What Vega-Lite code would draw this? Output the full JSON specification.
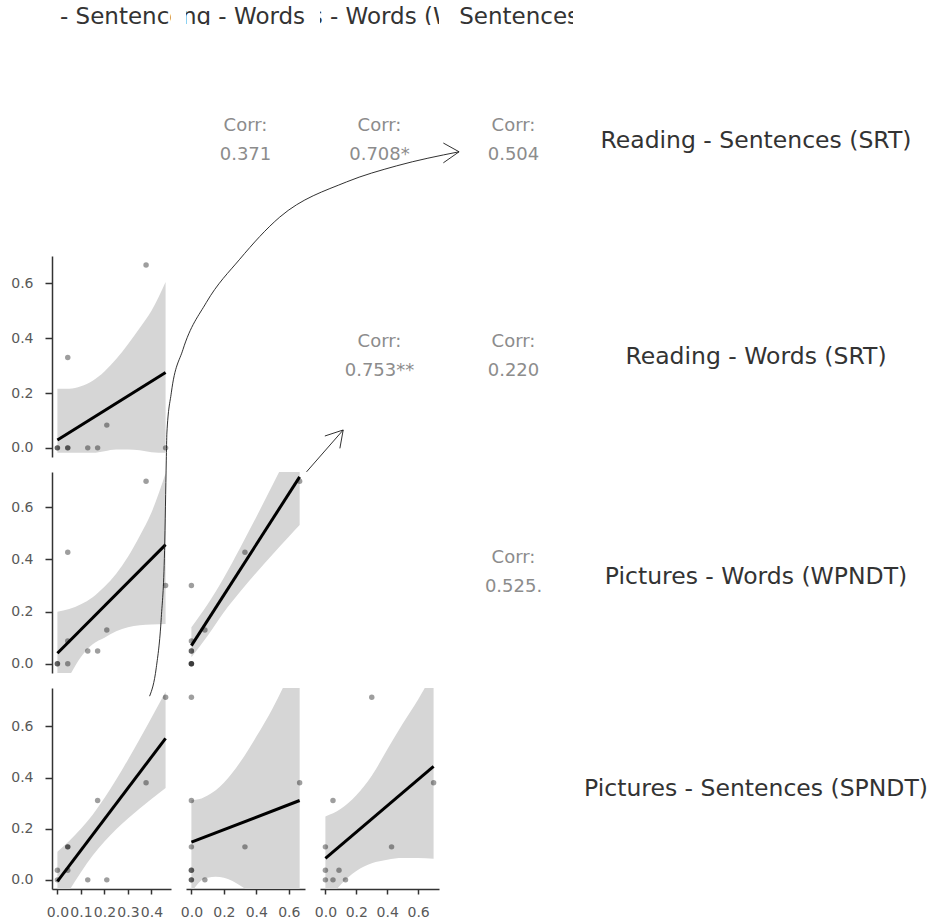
{
"$schema": "https://vega.github.io/schema/vega-lite/v6.json",
"padding": {"left": 10, "top": 0, "right": 0, "bottom": 0},
"background": "white",
"columns": 5,
"spacing": {"row": 15, "column": 15},
"bounds": "flush",
"align": "each",
"config": {
  "view": {"stroke": null},
  "axis": {"grid": false, "domainColor": "#333333", "domainWidth": 1.5, "tickColor": "#333333", "tickWidth": 1.5, "labelColor": "#595959", "labelFont": "DejaVu Sans", "labelFontSize": 14, "labelFlush": false, "labelOverlap": false},
  "axisY": {"tickSize": 7, "labelPadding": 12},
  "axisX": {"tickSize": 5, "labelPadding": 11}
},
"datasets": {
  "obs": [
    {"A": 0.377, "B": 0.667, "C": 0.70, "D": 0.38},
    {"A": 0.46, "B": 0, "C": 0.30, "D": 0.714},
    {"A": 0.21, "B": 0.083, "C": 0.13, "D": 0},
    {"A": 0.171, "B": 0, "C": 0.049, "D": 0.31},
    {"A": 0.129, "B": 0, "C": 0.049, "D": 0},
    {"A": 0.044, "B": 0.33, "C": 0.428, "D": 0.129},
    {"A": 0.044, "B": 0, "C": 0.088, "D": 0.038},
    {"A": 0, "B": 0, "C": 0, "D": 0.038},
    {"A": 0.044, "B": 0, "C": 0, "D": 0.129},
    {"A": 0, "B": 0, "C": 0, "D": 0}
  ],
  "band": [
    {"p": "AB", "x": 0, "lo": -0.018, "hi": 0.216},
    {"p": "AB", "x": 0.05, "lo": -0.018, "hi": 0.216},
    {"p": "AB", "x": 0.1, "lo": -0.018, "hi": 0.225},
    {"p": "AB", "x": 0.15, "lo": -0.018, "hi": 0.245},
    {"p": "AB", "x": 0.2, "lo": -0.012, "hi": 0.279},
    {"p": "AB", "x": 0.25, "lo": -0.006, "hi": 0.324},
    {"p": "AB", "x": 0.3, "lo": -0.006, "hi": 0.378},
    {"p": "AB", "x": 0.35, "lo": -0.009, "hi": 0.437},
    {"p": "AB", "x": 0.4, "lo": -0.016, "hi": 0.5},
    {"p": "AB", "x": 0.46, "lo": -0.018, "hi": 0.605},
    {"p": "AC", "x": 0, "lo": -0.129, "hi": 0.20},
    {"p": "AC", "x": 0.05, "lo": -0.048, "hi": 0.21},
    {"p": "AC", "x": 0.1, "lo": 0.026, "hi": 0.228},
    {"p": "AC", "x": 0.15, "lo": 0.075, "hi": 0.255},
    {"p": "AC", "x": 0.2, "lo": 0.10, "hi": 0.295},
    {"p": "AC", "x": 0.25, "lo": 0.125, "hi": 0.345},
    {"p": "AC", "x": 0.3, "lo": 0.14, "hi": 0.41},
    {"p": "AC", "x": 0.35, "lo": 0.148, "hi": 0.49},
    {"p": "AC", "x": 0.4, "lo": 0.151, "hi": 0.58},
    {"p": "AC", "x": 0.46, "lo": 0.153, "hi": 0.73},
    {"p": "AD", "x": 0, "lo": -0.12, "hi": 0.11},
    {"p": "AD", "x": 0.05, "lo": -0.042, "hi": 0.152},
    {"p": "AD", "x": 0.1, "lo": 0.03, "hi": 0.20},
    {"p": "AD", "x": 0.15, "lo": 0.095, "hi": 0.255},
    {"p": "AD", "x": 0.2, "lo": 0.15, "hi": 0.32},
    {"p": "AD", "x": 0.25, "lo": 0.198, "hi": 0.392},
    {"p": "AD", "x": 0.3, "lo": 0.24, "hi": 0.47},
    {"p": "AD", "x": 0.35, "lo": 0.279, "hi": 0.551},
    {"p": "AD", "x": 0.4, "lo": 0.316, "hi": 0.634},
    {"p": "AD", "x": 0.46, "lo": 0.359, "hi": 0.735},
    {"p": "BC", "x": 0, "lo": 0.025, "hi": 0.14},
    {"p": "BC", "x": 0.1, "lo": 0.108, "hi": 0.228},
    {"p": "BC", "x": 0.2, "lo": 0.198, "hi": 0.33},
    {"p": "BC", "x": 0.3, "lo": 0.276, "hi": 0.444},
    {"p": "BC", "x": 0.4, "lo": 0.349, "hi": 0.563},
    {"p": "BC", "x": 0.5, "lo": 0.419, "hi": 0.685},
    {"p": "BC", "x": 0.6, "lo": 0.487, "hi": 0.809},
    {"p": "BC", "x": 0.667, "lo": 0.532, "hi": 0.892},
    {"p": "BD", "x": 0, "lo": -0.05, "hi": 0.312},
    {"p": "BD", "x": 0.05, "lo": -0.008, "hi": 0.316},
    {"p": "BD", "x": 0.1, "lo": 0.008, "hi": 0.33},
    {"p": "BD", "x": 0.15, "lo": 0.012, "hi": 0.35},
    {"p": "BD", "x": 0.2, "lo": 0.008, "hi": 0.38},
    {"p": "BD", "x": 0.3, "lo": -0.022, "hi": 0.46},
    {"p": "BD", "x": 0.4, "lo": -0.07, "hi": 0.56},
    {"p": "BD", "x": 0.5, "lo": -0.15, "hi": 0.67},
    {"p": "BD", "x": 0.6, "lo": -0.24, "hi": 0.8},
    {"p": "BD", "x": 0.667, "lo": -0.3, "hi": 0.9},
    {"p": "CD", "x": 0, "lo": -0.094, "hi": 0.248},
    {"p": "CD", "x": 0.1, "lo": -0.018, "hi": 0.278},
    {"p": "CD", "x": 0.2, "lo": 0.035, "hi": 0.331},
    {"p": "CD", "x": 0.3, "lo": 0.065, "hi": 0.407},
    {"p": "CD", "x": 0.4, "lo": 0.079, "hi": 0.51},
    {"p": "CD", "x": 0.5, "lo": 0.085, "hi": 0.61},
    {"p": "CD", "x": 0.6, "lo": 0.085, "hi": 0.705},
    {"p": "CD", "x": 0.7, "lo": 0.083, "hi": 0.813}
  ],
  "corr": [
    {"pair": "AB", "label": "Corr:", "value": "0.371"},
    {"pair": "AC", "label": "Corr:", "value": "0.708*"},
    {"pair": "AD", "label": "Corr:", "value": "0.504"},
    {"pair": "BC", "label": "Corr:", "value": "0.753**"},
    {"pair": "BD", "label": "Corr:", "value": "0.220"},
    {"pair": "CD", "label": "Corr:", "value": "0.525."}
  ],
  "vars": [
    {"v": "A", "name": "Reading - Sentences (SRT)"},
    {"v": "B", "name": "Reading - Words (SRT)"},
    {"v": "C", "name": "Pictures - Words (WPNDT)"},
    {"v": "D", "name": "Pictures - Sentences (SPNDT)"}
  ],
  "curve": [
    {"A": 0.392, "D": 0.718},
    {"A": 0.4204, "D": 0.8293},
    {"A": 0.4417, "D": 1.0256},
    {"A": 0.4557, "D": 1.2875},
    {"A": 0.4630, "D": 1.6408},
    {"A": 0.4655, "D": 1.7468},
    {"A": 0.4843, "D": 1.9038},
    {"A": 0.5337, "D": 2.0726},
    {"A": 0.6334, "D": 2.2572},
    {"A": 0.7752, "D": 2.4260},
    {"A": 0.9456, "D": 2.5909},
    {"A": 1.2297, "D": 2.7283},
    {"A": 1.4426, "D": 2.7911},
    {"A": 1.7080, "D": 2.8460}
  ],
  "segs": [
    {"s": "h1a", "A": 1.6411, "D": 2.8802},
    {"s": "h1a", "A": 1.7080, "D": 2.8460},
    {"s": "h1b", "A": 1.6411, "D": 2.8029},
    {"s": "h1b", "A": 1.7080, "D": 2.8460},
    {"s": "a2", "A": 1.0593, "D": 1.5949},
    {"s": "a2", "A": 1.2152, "D": 1.7586},
    {"s": "h2a", "A": 1.1372, "D": 1.7350},
    {"s": "h2a", "A": 1.2152, "D": 1.7586},
    {"s": "h2b", "A": 1.2011, "D": 1.6867},
    {"s": "h2b", "A": 1.2152, "D": 1.7586}
  ]
},
"concat": [
  {"width": 119, "height": 25, "data": {"name": "vars"}, "transform": [{"filter": "datum.v == 'A'"}], "mark": {"type": "text", "clip": true, "font": "DejaVu Sans", "fontSize": 23, "color": "#333333", "dy": 4}, "encoding": {"text": {"field": "name"}}},
  {"width": 119, "height": 25, "data": {"name": "vars"}, "transform": [{"filter": "datum.v == 'B'"}], "mark": {"type": "text", "clip": true, "font": "DejaVu Sans", "fontSize": 23, "color": "#333333", "dy": 4}, "encoding": {"text": {"field": "name"}}},
  {"width": 119, "height": 25, "data": {"name": "vars"}, "transform": [{"filter": "datum.v == 'C'"}], "mark": {"type": "text", "clip": true, "font": "DejaVu Sans", "fontSize": 23, "color": "#333333", "dy": 4}, "encoding": {"text": {"field": "name"}}},
  {"width": 119, "height": 25, "data": {"name": "vars"}, "transform": [{"filter": "datum.v == 'D'"}], "mark": {"type": "text", "clip": true, "font": "DejaVu Sans", "fontSize": 23, "color": "#333333", "dy": 4}, "encoding": {"text": {"field": "name"}}},
  {"width": 336, "height": 25, "data": {"values": [{}]}, "mark": {"type": "text", "text": ""}},

  {"width": 119, "height": 201, "data": {"values": [{}]}, "mark": {"type": "text", "text": ""}},
  {"width": 119, "height": 201, "data": {"name": "corr"}, "transform": [{"filter": "datum.pair == 'AB'"}], "layer": [
    {"mark": {"type": "text", "font": "DejaVu Sans", "fontSize": 18, "color": "#8c8c8c", "dy": -15}, "encoding": {"text": {"field": "label"}}},
    {"mark": {"type": "text", "font": "DejaVu Sans", "fontSize": 18, "color": "#8c8c8c", "dy": 14}, "encoding": {"text": {"field": "value"}}}]},
  {"width": 119, "height": 201, "data": {"name": "corr"}, "transform": [{"filter": "datum.pair == 'AC'"}], "layer": [
    {"mark": {"type": "text", "font": "DejaVu Sans", "fontSize": 18, "color": "#8c8c8c", "dy": -15}, "encoding": {"text": {"field": "label"}}},
    {"mark": {"type": "text", "font": "DejaVu Sans", "fontSize": 18, "color": "#8c8c8c", "dy": 14}, "encoding": {"text": {"field": "value"}}}]},
  {"width": 119, "height": 201, "data": {"name": "corr"}, "transform": [{"filter": "datum.pair == 'AD'"}], "layer": [
    {"mark": {"type": "text", "font": "DejaVu Sans", "fontSize": 18, "color": "#8c8c8c", "dy": -15}, "encoding": {"text": {"field": "label"}}},
    {"mark": {"type": "text", "font": "DejaVu Sans", "fontSize": 18, "color": "#8c8c8c", "dy": 14}, "encoding": {"text": {"field": "value"}}}]},
  {"width": 336, "height": 201, "data": {"name": "vars"}, "transform": [{"filter": "datum.v == 'A'"}], "mark": {"type": "text", "font": "DejaVu Sans", "fontSize": 23.5, "color": "#333333"}, "encoding": {"text": {"field": "name"}}},

  {"width": 119, "height": 201, "layer": [
    {"data": {"name": "band"}, "transform": [{"filter": "datum.p == 'AB'"}], "mark": {"type": "area", "color": "#d6d6d6", "opacity": 1, "clip": true, "interpolate": "monotone"},
     "encoding": {"x": {"field": "x", "type": "quantitative", "title": null, "scale": {"domain": [-0.023, 0.483], "nice": false, "zero": false}, "axis": null},
                  "y": {"field": "lo", "type": "quantitative", "title": null, "scale": {"domain": [-0.0333, 0.70], "nice": false, "zero": false}, "axis": {"values": [0, 0.2, 0.4, 0.6], "format": ".1f"}},
                  "y2": {"field": "hi"}}},
    {"data": {"name": "obs"}, "mark": {"type": "circle", "size": 30, "color": "#000000", "opacity": 0.38},
     "encoding": {"x": {"field": "A", "type": "quantitative", "title": null, "axis": null},
                  "y": {"field": "B", "type": "quantitative", "title": null, "axis": {"values": [0, 0.2, 0.4, 0.6], "format": ".1f"}}}},
    {"data": {"name": "obs"}, "transform": [{"regression": "B", "on": "A"}], "mark": {"type": "line", "color": "#000000", "strokeWidth": 3},
     "encoding": {"x": {"field": "A", "type": "quantitative", "title": null, "axis": null},
                  "y": {"field": "B", "type": "quantitative", "title": null, "axis": {"values": [0, 0.2, 0.4, 0.6], "format": ".1f"}}}}
  ]},
  {"width": 119, "height": 201, "data": {"values": [{}]}, "mark": {"type": "text", "text": ""}},
  {"width": 119, "height": 201, "data": {"name": "corr"}, "transform": [{"filter": "datum.pair == 'BC'"}], "layer": [
    {"mark": {"type": "text", "font": "DejaVu Sans", "fontSize": 18, "color": "#8c8c8c", "dy": -15}, "encoding": {"text": {"field": "label"}}},
    {"mark": {"type": "text", "font": "DejaVu Sans", "fontSize": 18, "color": "#8c8c8c", "dy": 14}, "encoding": {"text": {"field": "value"}}}]},
  {"width": 119, "height": 201, "data": {"name": "corr"}, "transform": [{"filter": "datum.pair == 'BD'"}], "layer": [
    {"mark": {"type": "text", "font": "DejaVu Sans", "fontSize": 18, "color": "#8c8c8c", "dy": -15}, "encoding": {"text": {"field": "label"}}},
    {"mark": {"type": "text", "font": "DejaVu Sans", "fontSize": 18, "color": "#8c8c8c", "dy": 14}, "encoding": {"text": {"field": "value"}}}]},
  {"width": 336, "height": 201, "data": {"name": "vars"}, "transform": [{"filter": "datum.v == 'B'"}], "mark": {"type": "text", "font": "DejaVu Sans", "fontSize": 23.5, "color": "#333333"}, "encoding": {"text": {"field": "name"}}},

  {"width": 119, "height": 201, "layer": [
    {"data": {"name": "band"}, "transform": [{"filter": "datum.p == 'AC'"}], "mark": {"type": "area", "color": "#d6d6d6", "opacity": 1, "clip": true, "interpolate": "monotone"},
     "encoding": {"x": {"field": "x", "type": "quantitative", "title": null, "scale": {"domain": [-0.023, 0.483], "nice": false, "zero": false}, "axis": null},
                  "y": {"field": "lo", "type": "quantitative", "title": null, "scale": {"domain": [-0.035, 0.735], "nice": false, "zero": false}, "axis": {"values": [0, 0.2, 0.4, 0.6], "format": ".1f"}},
                  "y2": {"field": "hi"}}},
    {"data": {"name": "obs"}, "mark": {"type": "circle", "size": 30, "color": "#000000", "opacity": 0.38},
     "encoding": {"x": {"field": "A", "type": "quantitative", "title": null, "axis": null},
                  "y": {"field": "C", "type": "quantitative", "title": null, "axis": {"values": [0, 0.2, 0.4, 0.6], "format": ".1f"}}}},
    {"data": {"name": "obs"}, "transform": [{"regression": "C", "on": "A"}], "mark": {"type": "line", "color": "#000000", "strokeWidth": 3},
     "encoding": {"x": {"field": "A", "type": "quantitative", "title": null, "axis": null},
                  "y": {"field": "C", "type": "quantitative", "title": null, "axis": {"values": [0, 0.2, 0.4, 0.6], "format": ".1f"}}}}
  ]},
  {"width": 119, "height": 201, "layer": [
    {"data": {"name": "band"}, "transform": [{"filter": "datum.p == 'BC'"}], "mark": {"type": "area", "color": "#d6d6d6", "opacity": 1, "clip": true, "interpolate": "monotone"},
     "encoding": {"x": {"field": "x", "type": "quantitative", "title": null, "scale": {"domain": [-0.0333, 0.70], "nice": false, "zero": false}, "axis": null},
                  "y": {"field": "lo", "type": "quantitative", "title": null, "scale": {"domain": [-0.035, 0.735], "nice": false, "zero": false}, "axis": null},
                  "y2": {"field": "hi"}}},
    {"data": {"name": "obs"}, "mark": {"type": "circle", "size": 30, "color": "#000000", "opacity": 0.38},
     "encoding": {"x": {"field": "B", "type": "quantitative", "title": null, "axis": null},
                  "y": {"field": "C", "type": "quantitative", "title": null, "axis": null}}},
    {"data": {"name": "obs"}, "transform": [{"regression": "C", "on": "B"}], "mark": {"type": "line", "color": "#000000", "strokeWidth": 3},
     "encoding": {"x": {"field": "B", "type": "quantitative", "title": null, "axis": null},
                  "y": {"field": "C", "type": "quantitative", "title": null, "axis": null}}}
  ]},
  {"width": 119, "height": 201, "data": {"values": [{}]}, "mark": {"type": "text", "text": ""}},
  {"width": 119, "height": 201, "data": {"name": "corr"}, "transform": [{"filter": "datum.pair == 'CD'"}], "layer": [
    {"mark": {"type": "text", "font": "DejaVu Sans", "fontSize": 18, "color": "#8c8c8c", "dy": -15}, "encoding": {"text": {"field": "label"}}},
    {"mark": {"type": "text", "font": "DejaVu Sans", "fontSize": 18, "color": "#8c8c8c", "dy": 14}, "encoding": {"text": {"field": "value"}}}]},
  {"width": 336, "height": 201, "data": {"name": "vars"}, "transform": [{"filter": "datum.v == 'C'"}], "mark": {"type": "text", "font": "DejaVu Sans", "fontSize": 23.5, "color": "#333333", "dy": 4}, "encoding": {"text": {"field": "name"}}},

  {"width": 119, "height": 201, "layer": [
    {"data": {"name": "band"}, "transform": [{"filter": "datum.p == 'AD'"}], "mark": {"type": "area", "color": "#d6d6d6", "opacity": 1, "clip": true, "interpolate": "monotone"},
     "encoding": {"x": {"field": "x", "type": "quantitative", "title": null, "scale": {"domain": [-0.023, 0.483], "nice": false, "zero": false}, "axis": {"values": [0, 0.1, 0.2, 0.3, 0.4], "format": ".1f"}},
                  "y": {"field": "lo", "type": "quantitative", "title": null, "scale": {"domain": [-0.0357, 0.75], "nice": false, "zero": false}, "axis": {"values": [0, 0.2, 0.4, 0.6], "format": ".1f"}},
                  "y2": {"field": "hi"}}},
    {"data": {"name": "obs"}, "mark": {"type": "circle", "size": 30, "color": "#000000", "opacity": 0.38},
     "encoding": {"x": {"field": "A", "type": "quantitative", "title": null, "axis": {"values": [0, 0.1, 0.2, 0.3, 0.4], "format": ".1f"}},
                  "y": {"field": "D", "type": "quantitative", "title": null, "axis": {"values": [0, 0.2, 0.4, 0.6], "format": ".1f"}}}},
    {"data": {"name": "obs"}, "transform": [{"regression": "D", "on": "A"}], "mark": {"type": "line", "color": "#000000", "strokeWidth": 3},
     "encoding": {"x": {"field": "A", "type": "quantitative", "title": null, "axis": {"values": [0, 0.1, 0.2, 0.3, 0.4], "format": ".1f"}},
                  "y": {"field": "D", "type": "quantitative", "title": null, "axis": {"values": [0, 0.2, 0.4, 0.6], "format": ".1f"}}}},
    {"data": {"name": "curve"}, "mark": {"type": "line", "color": "#1a1a1a", "strokeWidth": 0.9, "interpolate": "monotone"},
     "encoding": {"x": {"field": "A", "type": "quantitative", "title": null, "axis": {"values": [0, 0.1, 0.2, 0.3, 0.4], "format": ".1f"}},
                  "y": {"field": "D", "type": "quantitative", "title": null, "axis": {"values": [0, 0.2, 0.4, 0.6], "format": ".1f"}}}},
    {"data": {"name": "segs"}, "mark": {"type": "line", "color": "#1a1a1a", "strokeWidth": 0.9},
     "encoding": {"x": {"field": "A", "type": "quantitative", "title": null, "axis": {"values": [0, 0.1, 0.2, 0.3, 0.4], "format": ".1f"}},
                  "y": {"field": "D", "type": "quantitative", "title": null, "axis": {"values": [0, 0.2, 0.4, 0.6], "format": ".1f"}},
                  "detail": {"field": "s", "type": "nominal"}}}
  ]},
  {"width": 119, "height": 201, "layer": [
    {"data": {"name": "band"}, "transform": [{"filter": "datum.p == 'BD'"}], "mark": {"type": "area", "color": "#d6d6d6", "opacity": 1, "clip": true, "interpolate": "monotone"},
     "encoding": {"x": {"field": "x", "type": "quantitative", "title": null, "scale": {"domain": [-0.0333, 0.70], "nice": false, "zero": false}, "axis": {"values": [0, 0.2, 0.4, 0.6], "format": ".1f"}},
                  "y": {"field": "lo", "type": "quantitative", "title": null, "scale": {"domain": [-0.0357, 0.75], "nice": false, "zero": false}, "axis": null},
                  "y2": {"field": "hi"}}},
    {"data": {"name": "obs"}, "mark": {"type": "circle", "size": 30, "color": "#000000", "opacity": 0.38},
     "encoding": {"x": {"field": "B", "type": "quantitative", "title": null, "axis": {"values": [0, 0.2, 0.4, 0.6], "format": ".1f"}},
                  "y": {"field": "D", "type": "quantitative", "title": null, "axis": null}}},
    {"data": {"name": "obs"}, "transform": [{"regression": "D", "on": "B"}], "mark": {"type": "line", "color": "#000000", "strokeWidth": 3},
     "encoding": {"x": {"field": "B", "type": "quantitative", "title": null, "axis": {"values": [0, 0.2, 0.4, 0.6], "format": ".1f"}},
                  "y": {"field": "D", "type": "quantitative", "title": null, "axis": null}}}
  ]},
  {"width": 119, "height": 201, "layer": [
    {"data": {"name": "band"}, "transform": [{"filter": "datum.p == 'CD'"}], "mark": {"type": "area", "color": "#d6d6d6", "opacity": 1, "clip": true, "interpolate": "monotone"},
     "encoding": {"x": {"field": "x", "type": "quantitative", "title": null, "scale": {"domain": [-0.035, 0.735], "nice": false, "zero": false}, "axis": {"values": [0, 0.2, 0.4, 0.6], "format": ".1f"}},
                  "y": {"field": "lo", "type": "quantitative", "title": null, "scale": {"domain": [-0.0357, 0.75], "nice": false, "zero": false}, "axis": null},
                  "y2": {"field": "hi"}}},
    {"data": {"name": "obs"}, "mark": {"type": "circle", "size": 30, "color": "#000000", "opacity": 0.38},
     "encoding": {"x": {"field": "C", "type": "quantitative", "title": null, "axis": {"values": [0, 0.2, 0.4, 0.6], "format": ".1f"}},
                  "y": {"field": "D", "type": "quantitative", "title": null, "axis": null}}},
    {"data": {"name": "obs"}, "transform": [{"regression": "D", "on": "C"}], "mark": {"type": "line", "color": "#000000", "strokeWidth": 3},
     "encoding": {"x": {"field": "C", "type": "quantitative", "title": null, "axis": {"values": [0, 0.2, 0.4, 0.6], "format": ".1f"}},
                  "y": {"field": "D", "type": "quantitative", "title": null, "axis": null}}}
  ]},
  {"width": 119, "height": 201, "data": {"values": [{}]}, "mark": {"type": "text", "text": ""}},
  {"width": 336, "height": 201, "data": {"name": "vars"}, "transform": [{"filter": "datum.v == 'D'"}], "mark": {"type": "text", "font": "DejaVu Sans", "fontSize": 23.5, "color": "#333333"}, "encoding": {"text": {"field": "name"}}}
]
}
